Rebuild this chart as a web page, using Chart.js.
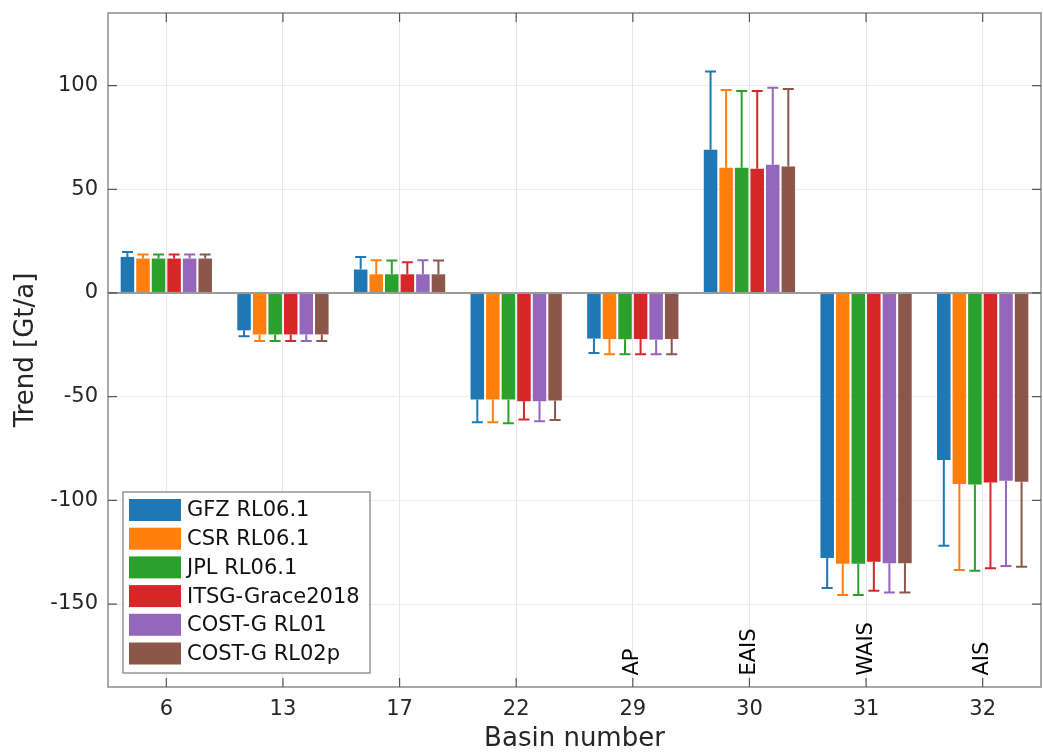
<!DOCTYPE html>
<html>
<head>
<meta charset="utf-8">
<script src="https://cdn.jsdelivr.net/npm/chart.js@4/dist/chart.umd.min.js"></script>
<style>
  html, body { margin: 0; padding: 0; background: #fff; }
  #wrap { width: 1043px; height: 752px; }
</style>
</head>
<body>
<div id="wrap"><canvas id="myChart" width="1043" height="752"></canvas></div>
<script>
const basins = ["6", "13", "17", "22", "29", "30", "31", "32"];
const regionNames = ["", "", "", "", "AP", "EAIS", "WAIS", "AIS"];
const yTicks = [-150, -100, -50, 0, 50, 100];

const seriesNames = ["GFZ RL06.1", "CSR RL06.1", "JPL RL06.1", "ITSG-Grace2018", "COST-G RL01", "COST-G RL02p"];
const seriesColors = ["#1f77b4", "#ff7f0e", "#2ca02c", "#d62728", "#9467bd", "#8c564b"];

const gfz  = [17.4, -18.0, 11.3, -51.4, -22.0, 69.0, -127.8, -80.5];
const csr  = [16.6, -20.0,  9.0, -51.4, -22.2, 60.4, -130.6, -92.1];
const jpl  = [16.6, -20.0,  9.0, -51.4, -22.3, 60.4, -130.6, -92.4];
const itsg = [16.6, -20.0,  9.0, -52.2, -22.2, 59.9, -129.6, -91.4];
const cg01 = [16.6, -20.0,  9.0, -52.2, -22.5, 61.8, -130.3, -90.5];
const cg02 = [16.6, -20.0,  9.0, -51.8, -22.2, 61.0, -130.3, -91.0];

// one-sided error (drawn away from zero)
const gfzErr  = [2.3, 2.9, 6.1, 10.9, 7.0, 37.8, 14.5, 41.4];
const csrErr  = [1.9, 3.2, 6.8, 10.9, 7.3, 37.5, 15.0, 41.5];
const jplErr  = [1.9, 3.2, 6.6, 11.4, 7.2, 37.0, 15.0, 41.5];
const itsgErr = [1.9, 3.2, 5.8,  8.8, 7.3, 37.5, 14.0, 41.3];
const cg01Err = [1.9, 3.2, 6.8,  9.6, 7.0, 37.2, 14.1, 41.2];
const cg02Err = [1.9, 3.2, 6.6,  9.4, 7.3, 37.4, 14.1, 41.0];

const values = [gfz, csr, jpl, itsg, cg01, cg02];
const errors = [gfzErr, csrErr, jplErr, itsgErr, cg01Err, cg02Err];

const FONT = "'DejaVu Sans', sans-serif";
const TEXT = "#262626";
const AXIS = "#8c8c8c";

const errorBars = {
  id: "errorBars",
  afterDatasetsDraw(chart) {
    const c = chart.ctx;
    const y = chart.scales.y;
    chart.data.datasets.forEach((ds, i) => {
      const meta = chart.getDatasetMeta(i);
      c.save();
      c.strokeStyle = ds.backgroundColor;
      c.lineWidth = 2;
      meta.data.forEach((bar, j) => {
        const v = ds.data[j];
        const e = errors[i][j];
        const end = y.getPixelForValue(v >= 0 ? v + e : v - e);
        c.beginPath();
        c.moveTo(bar.x, bar.y);
        c.lineTo(bar.x, end);
        c.moveTo(bar.x - 5.5, end);
        c.lineTo(bar.x + 5.5, end);
        c.stroke();
      });
      c.restore();
    });
  }
};

const frame = {
  id: "frame",
  afterDraw(chart) {
    const c = chart.ctx;
    const a = chart.chartArea;
    const x = chart.scales.x, y = chart.scales.y;
    c.save();
    c.strokeStyle = AXIS;
    c.lineWidth = 1.5;
    c.strokeRect(a.left, a.top, a.right - a.left, a.bottom - a.top);
    // inward ticks
    c.lineWidth = 1.2;
    c.strokeStyle = "#555";
    c.beginPath();
    basins.forEach((b, i) => {
      const px = x.getPixelForValue(i);
      c.moveTo(px, a.bottom); c.lineTo(px, a.bottom - 9);
      c.moveTo(px, a.top); c.lineTo(px, a.top + 9);
    });
    yTicks.forEach(t => {
      const py = y.getPixelForValue(t);
      c.moveTo(a.left, py); c.lineTo(a.left + 9, py);
      c.moveTo(a.right, py); c.lineTo(a.right - 9, py);
    });
    c.stroke();

    // region names, rotated
    c.fillStyle = "#000";
    c.font = "21px " + FONT;
    c.textAlign = "left";
    c.textBaseline = "middle";
    regionNames.forEach((n, i) => {
      if (!n) return;
      c.save();
      c.translate(x.getPixelForValue(i), y.getPixelForValue(-184.5));
      c.rotate(-Math.PI / 2);
      c.fillText(n, 0, 0);
      c.restore();
    });

    // legend box
    const lx = 123, ly = 492, lw = 247, lh = 181;
    c.fillStyle = "#fff";
    c.fillRect(lx, ly, lw, lh);
    c.strokeStyle = "#7a7a7a";
    c.lineWidth = 1.2;
    c.strokeRect(lx, ly, lw, lh);
    c.font = "21px " + FONT;
    c.textAlign = "left";
    chart.data.datasets.forEach((ds, i) => {
      const ry = ly + 7 + i * 28.7;
      c.fillStyle = ds.backgroundColor;
      c.fillRect(lx + 6, ry, 52, 22);
      c.fillStyle = "#111";
      c.fillText(ds.label, lx + 64, ry + 12);
    });
    c.restore();
  }
};

const ctx = document.getElementById("myChart");

const datasets = values.map((vals, i) => ({
  label: seriesNames[i],
  data: vals,
  backgroundColor: seriesColors[i],
  borderWidth: 0,
  barPercentage: 0.87,
  categoryPercentage: 0.8,
}));

const config = {
  type: "bar",
  data: { labels: basins, datasets: datasets },
  options: {
    responsive: false,
    animation: false,
    devicePixelRatio: 1,
    layout: { padding: { top: 13, right: 2, left: 0, bottom: 0 } },
    plugins: {
      legend: { display: false },
      tooltip: { enabled: false },
    },
    scales: {
      x: {
        offset: true,
        grid: { offset: false, color: "#e6e6e6", lineWidth: 1, drawTicks: false },
        border: { display: false },
        ticks: { color: TEXT, font: { family: FONT, size: 21 }, padding: 10, maxRotation: 0 },
        title: { display: true, text: "Basin number", color: TEXT, font: { family: FONT, size: 26, lineHeight: 1 }, padding: { top: 0, bottom: 0 } },
        afterFit: (s) => { s.height = 65; s.paddingLeft = 0; s.paddingRight = 0; },
      },
      y: {
        min: -190,
        max: 135,
        afterBuildTicks: (s) => { s.ticks = yTicks.map(v => ({ value: v })); },
        grid: {
          color: (c) => (c.tick && c.tick.value === 0 ? "#9a9a9a" : "#ececec"),
          lineWidth: (c) => (c.tick && c.tick.value === 0 ? 2 : 1),
          drawTicks: false,
        },
        border: { display: false },
        ticks: { color: TEXT, font: { family: FONT, size: 21 }, padding: 10 },
        title: { display: true, text: "Trend [Gt/a]", color: TEXT, font: { family: FONT, size: 26, lineHeight: 1 }, padding: { top: 13, bottom: 0 } },
        afterFit: (s) => { s.width = 108; s.paddingTop = 0; s.paddingBottom = 0; },
      },
    },
  },
  plugins: [errorBars, frame],
};

const myChart = new Chart(ctx, config);
</script>
</body>
</html>
